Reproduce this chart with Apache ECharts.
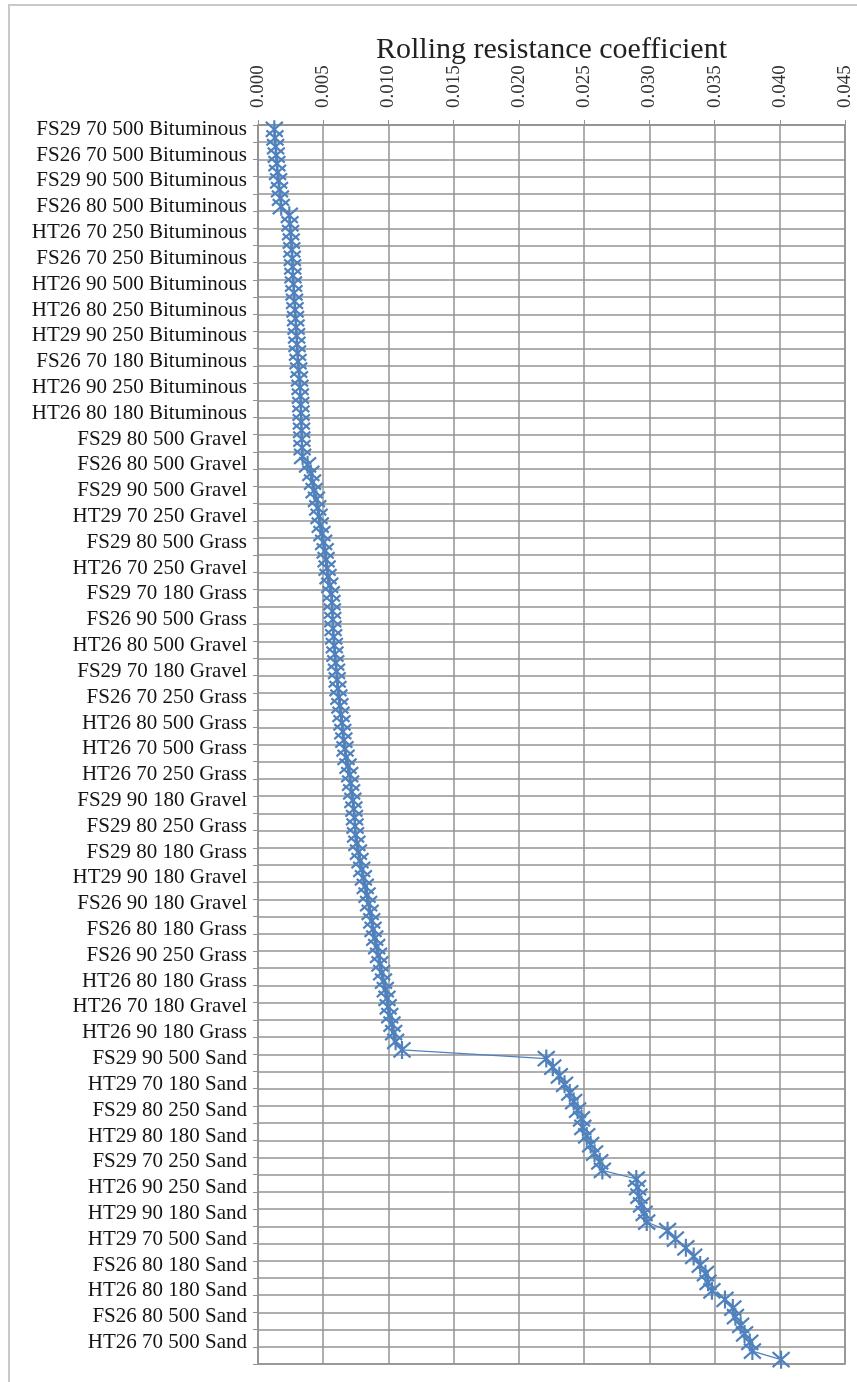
<!DOCTYPE html>
<html>
<head>
<meta charset="utf-8">
<script src="https://cdn.jsdelivr.net/npm/echarts@6/dist/echarts.min.js"></script>
<style>
  html, body { margin: 0; padding: 0; background: #fff; }
  #chart { width: 857px; height: 1382px; }
</style>
</head>
<body>
<div id="chart"></div>
<script>
// every 3rd configuration is labelled on the axis (144 configs in total)
const shownLabels = [
  'FS29 70 500 Bituminous', 'FS26 70 500 Bituminous', 'FS29 90 500 Bituminous', 'FS26 80 500 Bituminous',
  'HT26 70 250 Bituminous', 'FS26 70 250 Bituminous', 'HT26 90 500 Bituminous', 'HT26 80 250 Bituminous',
  'HT29 90 250 Bituminous', 'FS26 70 180 Bituminous', 'HT26 90 250 Bituminous', 'HT26 80 180 Bituminous',
  'FS29 80 500 Gravel', 'FS26 80 500 Gravel', 'FS29 90 500 Gravel', 'HT29 70 250 Gravel',
  'FS29 80 500 Grass', 'HT26 70 250 Gravel', 'FS29 70 180 Grass', 'FS26 90 500 Grass',
  'HT26 80 500 Gravel', 'FS29 70 180 Gravel', 'FS26 70 250 Grass', 'HT26 80 500 Grass',
  'HT26 70 500 Grass', 'HT26 70 250 Grass', 'FS29 90 180 Gravel', 'FS29 80 250 Grass',
  'FS29 80 180 Grass', 'HT29 90 180 Gravel', 'FS26 90 180 Gravel', 'FS26 80 180 Grass',
  'FS26 90 250 Grass', 'HT26 80 180 Grass', 'HT26 70 180 Gravel', 'HT26 90 180 Grass',
  'FS29 90 500 Sand', 'HT29 70 180 Sand', 'FS29 80 250 Sand', 'HT29 80 180 Sand',
  'FS29 70 250 Sand', 'HT26 90 250 Sand', 'HT29 90 180 Sand', 'HT29 70 500 Sand',
  'FS26 80 180 Sand', 'HT26 80 180 Sand', 'FS26 80 500 Sand', 'HT26 70 500 Sand'
]

// bituminous / gravel / grass configurations (108)
const mixedValues = [
  0.00125, 0.00130, 0.00135, 0.00140, 0.00145, 0.00150, 0.00158, 0.00165, 0.00172, 0.00178,
  0.00240, 0.00245, 0.00250, 0.00255, 0.00259, 0.00263, 0.00266, 0.00268, 0.00272, 0.00276,
  0.00280, 0.00284, 0.00288, 0.00292, 0.00296, 0.00299, 0.00303, 0.00307, 0.00312, 0.00318,
  0.00322, 0.00325, 0.00328, 0.00330, 0.00332, 0.00334, 0.00336, 0.00338, 0.00342, 0.00380,
  0.00405, 0.00418, 0.00430, 0.00448, 0.00458, 0.00468, 0.00477, 0.00490, 0.00503, 0.00515,
  0.00522, 0.00530, 0.00537, 0.00550, 0.00562, 0.00567, 0.00570, 0.00573, 0.00575, 0.00580,
  0.00585, 0.00590, 0.00596, 0.00602, 0.00607, 0.00613, 0.00620, 0.00628, 0.00636, 0.00644,
  0.00650, 0.00658, 0.00667, 0.00675, 0.00690, 0.00703, 0.00710, 0.00718, 0.00727, 0.00735,
  0.00740, 0.00744, 0.00748, 0.00758, 0.00770, 0.00782, 0.00795, 0.00808, 0.00822, 0.00836,
  0.00848, 0.00860, 0.00872, 0.00882, 0.00895, 0.00910, 0.00924, 0.00935, 0.00948, 0.00962,
  0.00976, 0.00989, 0.00998, 0.01010, 0.01027, 0.01040, 0.01055, 0.01104
]

// sand configurations (36)
const sandValues = [
  0.0221, 0.0226, 0.0231, 0.0235, 0.0239, 0.0242, 0.0245, 0.0248, 0.0249, 0.0252,
  0.0255, 0.0258, 0.0262, 0.0264, 0.0290, 0.0291, 0.0292, 0.0294, 0.0296, 0.0298,
  0.0314, 0.0320, 0.0328, 0.0334, 0.0339, 0.0343, 0.0345, 0.0348, 0.0358, 0.0364,
  0.0366, 0.0370, 0.0373, 0.0377, 0.0379, 0.0401
]

const values = mixedValues.concat(sandValues)
// unlabelled configs get placeholder names, they are never drawn (label interval 2)
const categories = values.map((v, i) => i % 3 === 0 ? shownLabels[i / 3] : '#' + i)

const serif = '"Liberation Serif", "Times New Roman", serif'
const gridColor = '#939393'
const blue = '#4F81BD'
// excel "star" marker: an X with a vertical bar
const starSymbol = 'path://M0,1L10,11M10,1L0,11M5,0L5,12'

const chart = echarts.init(document.getElementById('chart'))

chart.setOption({
  backgroundColor: '#fff',
  animation: false,
  graphic: [{
    type: 'rect',
    shape: {x: 9, y: 5, width: 880, height: 1400},
    style: {fill: 'none', stroke: '#c9c9c9', lineWidth: 2},
    silent: true
  }],
  grid: {
    left: 258, right: 12, top: 125, height: 1239,
    show: true, borderColor: gridColor, borderWidth: 1.5
  },
  xAxis: {
    type: 'value',
    position: 'top',
    min: 0, max: 0.045, interval: 0.005,
    name: 'Rolling resistance coefficient',
    nameLocation: 'middle',
    nameGap: 60,
    nameMoveOverlap: false,
    nameTextStyle: {fontFamily: serif, fontSize: 30, color: '#222'},
    axisLine: {show: true, lineStyle: {color: gridColor, width: 1.5}},
    axisTick: {show: true, length: 5, lineStyle: {color: gridColor}},
    axisLabel: {
      rotate: -90, margin: 17,
      fontFamily: serif, fontSize: 19, color: '#333',
      formatter: v => v.toFixed(3)
    },
    splitLine: {show: true, lineStyle: {color: gridColor, width: 1.5}}
  },
  yAxis: {
    type: 'category',
    inverse: true,
    data: categories,
    boundaryGap: true,
    axisLine: {show: true, lineStyle: {color: gridColor, width: 1.5}},
    axisTick: {show: true, interval: 1, length: 5, lineStyle: {color: gridColor}},
    axisLabel: {
      interval: 2, margin: 11,
      fontFamily: serif, fontSize: 21, color: '#141414'
    },
    splitLine: {show: true, interval: 1, lineStyle: {color: gridColor, width: 1.5}}
  },
  series: [{
    type: 'line',
    data: values,
    symbol: starSymbol,
    symbolSize: [17, 18],
    showAllSymbol: true,
    lineStyle: {color: blue, width: 1.2},
    itemStyle: {color: blue, borderColor: blue, borderWidth: 2.2}
  }]
})
</script>
</body>
</html>
